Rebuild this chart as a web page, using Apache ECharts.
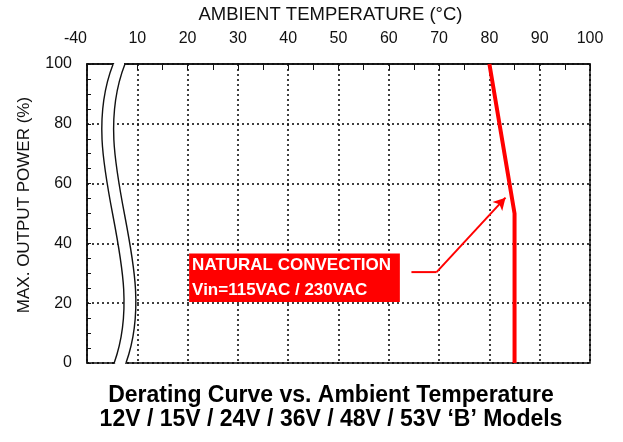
<!DOCTYPE html>
<html>
<head>
<meta charset="utf-8">
<script src="https://cdn.jsdelivr.net/npm/echarts@6/dist/echarts.min.js"></script>
<style>
  html, body { margin: 0; padding: 0; background: #fff; }
  #chart { width: 623px; height: 442px; }
</style>
</head>
<body>
<div id="chart"></div>
<script>
// axis ticks (the first x tick stands for -40 across the axis break)
var tempTicks = [0, 10, 20, 30, 40, 50, 60, 70, 80, 90, 100];
var tempLabels = ['-40', '10', '20', '30', '40', '50', '60', '70', '80', '90', '100'];

// derating curve: ambient temperature vs. max output power
var curveTemp = [80, 85, 85];
var curveLoad = [100, 50, 0];

// annotation box corners and arrow path
var noteBox = [[20.3, 36.6], [62.2, 20.4]];
var noteLines = ['NATURAL CONVECTION', 'Vin=115VAC / 230VAC'];
var arrowPath = [[64.5, 30.4], [69.5, 30.4], [83.2, 55.3]];

// axis break: cubic bezier (start, ctrl1, ctrl2, end) of the left wavy line,
// the right one is shifted by breakGap
var breakCurve = [[5.2, 100], [-2.5, 66.7], [12.5, 33.3], [5.4, 0]];
var breakGap = 2.35;

var ink = '#111';
var red = '#ff0000';
var font = '"Liberation Sans", Arial, sans-serif';

var chart = echarts.init(document.getElementById('chart'));

function renderBreak(params, api) {
    var l = breakCurve.map(function(p) { return api.coord(p); });
    var r = breakCurve.map(function(p) { return api.coord([p[0] + breakGap, p[1]]); });
    function pt(p) { return p[0] + ' ' + p[1]; }
    var leftPath = 'M' + pt(l[0]) + ' C' + pt(l[1]) + ' ' + pt(l[2]) + ' ' + pt(l[3]);
    var rightPath = 'M' + pt(r[0]) + ' C' + pt(r[1]) + ' ' + pt(r[2]) + ' ' + pt(r[3]);
    var fillPath = leftPath + ' L' + pt(r[3]) + ' C' + pt(r[2]) + ' ' + pt(r[1]) + ' ' + pt(r[0]) + ' Z';
    var top = l[0][1], bottom = l[3][1];
    return {
        type: 'group',
        children: [{
            type: 'path',
            shape: { pathData: fillPath },
            style: { fill: '#fff' }
        }, {
            type: 'line',
            shape: { x1: l[0][0] + 1, y1: top, x2: r[0][0] - 1, y2: top },
            style: { stroke: '#fff', lineWidth: 4 }
        }, {
            type: 'line',
            shape: { x1: l[3][0] + 1, y1: bottom, x2: r[3][0] - 1, y2: bottom },
            style: { stroke: '#fff', lineWidth: 4 }
        }, {
            type: 'path',
            shape: { pathData: leftPath },
            style: { stroke: ink, lineWidth: 1.4, fill: null }
        }, {
            type: 'path',
            shape: { pathData: rightPath },
            style: { stroke: ink, lineWidth: 1.4, fill: null }
        }]
    };
}

var option = {
    animation: false,
    textStyle: { fontFamily: font },
    title: {
        text: 'Derating Curve vs. Ambient Temperature\n12V / 15V / 24V / 36V / 48V / 53V \u2018B\u2019 Models',
        left: 331,
        top: 384,
        textAlign: 'center',
        padding: 0,
        textStyle: { fontFamily: font, fontSize: 23, fontWeight: 'bold', color: '#000', lineHeight: 24 }
    },
    grid: {
        left: 87, right: 33, top: 63, bottom: 79,
        show: true, borderColor: ink, borderWidth: 1.5
    },
    xAxis: {
        type: 'value',
        position: 'top',
        min: 0, max: 100, interval: 10,
        name: 'AMBIENT TEMPERATURE (\u00b0C)',
        nameLocation: 'middle',
        nameGap: 40,
        nameTextStyle: { fontSize: 18.5, color: '#111', padding: [0, 16, 0, 0] },
        axisLine: { show: true, onZero: false, lineStyle: { color: ink, width: 1.5 } },
        axisTick: { show: true, inside: true, length: 6, lineStyle: { color: ink } },
        minorTick: { show: true, splitNumber: 2, length: 6, lineStyle: { color: ink } },
        axisLabel: {
            fontSize: 16, color: '#111', margin: 17, alignMinLabel: 'right',
            formatter: function(v) { return tempLabels[tempTicks.indexOf(v)]; }
        },
        splitLine: { show: true, lineStyle: { color: '#000', width: 1.5, type: [2, 3] } }
    },
    yAxis: {
        type: 'value',
        min: 0, max: 100, interval: 20,
        name: 'MAX. OUTPUT POWER (%)',
        nameLocation: 'middle',
        nameGap: 54,
        nameTextStyle: { fontSize: 17, color: '#111', padding: [0, 0, 0, 17] },
        axisLine: { show: true, onZero: false, lineStyle: { color: ink, width: 1.5 } },
        axisTick: { show: true, inside: true, length: 4, lineStyle: { color: ink } },
        minorTick: { show: true, splitNumber: 4, length: 4, lineStyle: { color: ink } },
        axisLabel: { fontSize: 16, color: '#111', margin: 15 },
        splitLine: { show: true, lineStyle: { color: '#000', width: 1.5, type: [2, 3] } }
    },
    series: [{
        type: 'custom',
        renderItem: renderBreak,
        data: [[0, 0]],
        silent: true,
        clip: false,
        z: 3
    }, {
        type: 'line',
        data: curveTemp.map(function(t, i) { return [t, curveLoad[i]]; }),
        showSymbol: false,
        lineStyle: { color: red, width: 4 },
        itemStyle: { color: red },
        markArea: {
            silent: true,
            itemStyle: { color: red, opacity: 1 },
            label: {
                show: true,
                position: 'insideLeft',
                distance: 3,
                color: '#fff',
                fontSize: 17,
                fontWeight: 'bold',
                lineHeight: 25
            },
            data: [[{ name: noteLines.join('\n'), coord: noteBox[0] }, { coord: noteBox[1] }]]
        }
    }, {
        type: 'line',
        data: arrowPath.slice(0, 2),
        showSymbol: false,
        lineStyle: { color: red, width: 2 },
        markLine: {
            silent: true,
            symbol: ['none', 'arrow'],
            symbolSize: [10, 12],
            label: { show: false },
            lineStyle: { color: red, width: 2, type: 'solid' },
            data: [[{ coord: arrowPath[1] }, { coord: arrowPath[2] }]]
        }
    }]
};

chart.setOption(option);
</script>
</body>
</html>
